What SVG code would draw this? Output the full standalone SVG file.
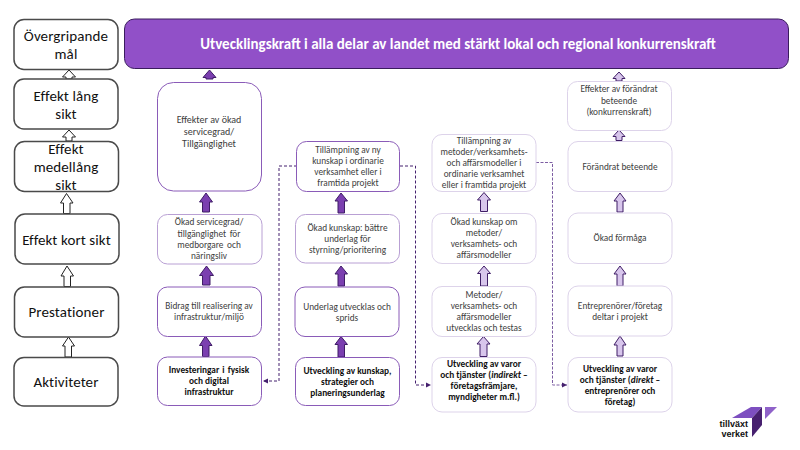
<svg xmlns="http://www.w3.org/2000/svg" width="800" height="450" viewBox="0 0 800 450">
<style>
text{font-family:Carlito,Lato,"Liberation Sans",sans-serif;text-anchor:middle;fill:#404040}
.l rect{fill:#fff;stroke:#4a4a4a;stroke-width:1.5}
.l text{font-size:15px;letter-spacing:.1px;fill:#111}
.n text{font-size:9.300px}
.n text.b{font-weight:700;fill:#111}
.n rect{fill:#fff;stroke-width:1}
.a rect{stroke:#8a5bb8}
.b2 rect{stroke:#b9a0d4}
.c rect{stroke:#ddd3ea}
.dash{fill:none;stroke:#45206e;stroke-width:1;stroke-dasharray:3 2}
.dash2{fill:none;stroke:#7d5ea3;stroke-width:1;stroke-dasharray:3 1.5}
.ao{fill:#fff;stroke:#222;stroke-width:1}
.ap{fill:#7b3fb0;stroke:#3f1d66;stroke-width:1}
.al{fill:#d8c6ec;stroke:#3f1d66;stroke-width:1}
.lg{fill:#111;text-anchor:end;font-family:"Liberation Sans",sans-serif;font-size:9px;font-weight:700}
</style>
<defs>
<marker id="h" markerWidth="6" markerHeight="6" refX="5" refY="3" orient="auto"><path d="M0 0.5L5 3L0 5.500Z" fill="#45206e"/></marker>
</defs>

<rect x="124.500" y="19" width="664" height="49.500" rx="10" fill="#9150c8" stroke="#3a1c5e" stroke-width="1"/>
<text x="458" y="49" font-size="15" font-weight="700" style="fill:#fff">Utvecklingskraft i alla delar av landet med stärkt lokal och regional konkurrenskraft</text>

<g id="connectors">
<path class="ao" d="M69 70L62.500 77H66V79H72V77H75.500Z"/>
<path class="ao" d="M69 130L62.500 137H66V141H72V137H75.500Z"/>
<path class="ao" d="M66.500 193.500L60.500 203H63.500V213.500H70V203H73Z"/>
<path class="ao" d="M67 266L61 276H64V286.500H70.500V276H73.500Z"/>
<path class="ao" d="M68.500 337L62.500 346H65V357H71.500V346H74.500Z"/>
<path class="ap" d="M209.500 70L203 77.500H206V79H213V77.500H216Z"/>
<path class="ap" d="M206 193L199.500 202H202.500V212H209.500V202H212.500Z"/>
<path class="ap" d="M206.500 266L199.500 275.500H202.500V285H210V275.500H213.500Z"/>
<path class="ap" d="M205.500 336L199.500 345.500H202.500V356.500H209V345.500H212Z"/>
<path class="ap" d="M341 193L335 201H338V213H344.500V201H347.500Z"/>
<path class="ap" d="M341 266L335 274H338V286H344.500V274H347.500Z"/>
<path class="ap" d="M341 336.500L335 344.500H338V357H344.500V344.500H347.500Z"/>
<path class="al" d="M484 192.500L477.500 200H480.500V211.500H487.500V200H490.500Z"/>
<path class="al" d="M484 266L477.500 273.500H480.500V286H487.500V273.500H490.500Z"/>
<path class="al" d="M483.500 336.500L477 344H480V356.500H487V344H490Z"/>
<path class="al" d="M619 72L613 78.500H616V81H622V78.500H625Z"/>
<path class="al" d="M619 130L613 136.500H616V140.500H622V136.500H625Z"/>
<path class="al" d="M620 193L614 201H617V212H623V201H626Z"/>
<path class="al" d="M620 266L614 274H617V286H623V274H626Z"/>
<path class="al" d="M620 336L614 345H617V356H623V345H626Z"/>
<path class="dash" d="M297 166H279V381H263" marker-end="url(#h)"/>
<path class="dash" d="M400 166H415.500V385H431" marker-end="url(#h)"/>
<path class="dash2" d="M536 162.500H552.500V385H567" marker-end="url(#h)"/>
</g>

<g id="level-goal" class="l"><rect x="14" y="19.500" width="104" height="50" rx="10"/><text x="66" y="41">Övergripande</text><text x="66" y="59">mål</text></g>
<g id="level-long" class="l"><rect x="14" y="79" width="104" height="50" rx="10"/><text x="66" y="101">Effekt lång</text><text x="66" y="119">sikt</text></g>
<g id="level-medium" class="l"><rect x="14.500" y="141.500" width="104" height="50" rx="10"/><text x="66" y="154">Effekt</text><text x="66" y="172">medellång</text><text x="66" y="190">sikt</text></g>
<g id="level-short" class="l"><rect x="15" y="214" width="104" height="50" rx="10"/><text x="66.500" y="245">Effekt kort sikt</text></g>
<g id="level-output" class="l"><rect x="14.500" y="287" width="104" height="50" rx="10"/><text x="66.500" y="317">Prestationer</text></g>
<g id="level-activity" class="l"><rect x="14" y="357.500" width="104" height="48.500" rx="10"/><text x="66" y="387">Aktiviteter</text></g>

<g id="a1" class="n a"><rect x="157.500" y="82.500" width="104" height="108.500" rx="16"/><text x="209" y="123" style="font-size:10px">Effekter av ökad</text><text x="209" y="135" style="font-size:10px">servicegrad/</text><text x="209" y="147" style="font-size:10px">Tillgänglighet</text></g>
<g id="a2" class="n b2"><rect x="157.500" y="214.500" width="104.500" height="49.500" rx="10"/><text x="209" y="225">Ökad servicegrad/</text><text x="209" y="237" word-spacing="1.500">tillgänglighet för</text><text x="209" y="248" word-spacing="1.500">medborgare och</text><text x="209" y="259">näringsliv</text></g>
<g id="a3" class="n a"><rect x="157.500" y="287" width="104" height="49.500" rx="10"/><text x="209" y="309">Bidrag till realisering av</text><text x="209" y="320">infrastruktur/miljö</text></g>
<g id="a4" class="n a"><rect x="157.500" y="357" width="104" height="48.500" rx="10"/><text class="b" x="209" y="373" word-spacing="1">Investeringar i fysisk</text><text class="b" x="209" y="384">och digital</text><text class="b" x="209" y="395">infrastruktur</text></g>

<g id="b1" class="n a"><rect x="296.500" y="141.500" width="103" height="50" rx="10"/><text x="348" y="153">Tillämpning av ny</text><text x="348" y="164">kunskap i ordinarie</text><text x="348" y="175">verksamhet eller i</text><text x="348" y="186">framtida projekt</text></g>
<g id="b2" class="n b2"><rect x="295.500" y="214.500" width="104" height="48.500" rx="10"/><text x="347.500" y="231">Ökad kunskap: bättre</text><text x="347.500" y="242">underlag för</text><text x="347.500" y="253">styrning/prioritering</text></g>
<g id="b3" class="n a"><rect x="295" y="287" width="104" height="49.500" rx="10"/><text x="347" y="310">Underlag utvecklas och</text><text x="347" y="321">sprids</text></g>
<g id="b4" class="n a"><rect x="295.500" y="357.500" width="104" height="48" rx="10"/><text class="b" x="347.500" y="374">Utveckling av kunskap,</text><text class="b" x="347.500" y="385">strategier och</text><text class="b" x="347.500" y="396">planeringsunderlag</text></g>

<g id="c1" class="n c"><rect x="432" y="134.500" width="104" height="57" rx="10"/><text x="484" y="144">Tillämpning av</text><text x="484" y="155">metoder/verksamhets-</text><text x="484" y="166">och affärsmodeller i</text><text x="484" y="177">ordinarie verksamhet</text><text x="484" y="188">eller i framtida projekt</text></g>
<g id="c2" class="n c"><rect x="432" y="213.500" width="104" height="50" rx="10"/><text x="484" y="225">Ökad kunskap om</text><text x="484" y="236">metoder/</text><text x="484" y="247">verksamhets- och</text><text x="484" y="258">affärsmodeller</text></g>
<g id="c3" class="n c"><rect x="432" y="286.500" width="104" height="50" rx="10"/><text x="484" y="298">Metoder/</text><text x="484" y="309">verksamhets- och</text><text x="484" y="320">affärsmodeller</text><text x="484" y="331">utvecklas och testas</text></g>
<g id="c4" class="n c"><rect x="432" y="357.500" width="104" height="54.500" rx="10"/><text class="b" x="484" y="367">Utveckling av varor</text><text class="b" x="484" y="378">och tjänster (<tspan font-style="italic">indirekt</tspan> –</text><text class="b" x="484" y="389">företagsfrämjare,</text><text class="b" x="484" y="400">myndigheter m.fl.)</text></g>

<g id="d1" class="n c"><rect x="567.500" y="81.500" width="104" height="49" rx="10"/><text x="619" y="92">Effekter av förändrat</text><text x="619" y="104">beteende</text><text x="619" y="115">(konkurrenskraft)</text></g>
<g id="d2" class="n c"><rect x="568" y="141.500" width="104" height="50" rx="10"/><text x="620" y="170">Förändrat beteende</text></g>
<g id="d3" class="n c"><rect x="568" y="213" width="104" height="50.500" rx="10"/><text x="620" y="241">Ökad förmåga</text></g>
<g id="d4" class="n c"><rect x="568" y="286" width="104" height="50" rx="10"/><text x="620" y="309">Entreprenörer/företag</text><text x="620" y="320">deltar i projekt</text></g>
<g id="d5" class="n c"><rect x="568" y="357.500" width="104" height="54.500" rx="10"/><text class="b" x="620" y="372">Utveckling av varor</text><text class="b" x="620" y="383">och tjänster (<tspan font-style="italic">direkt</tspan> –</text><text class="b" x="620" y="394">entreprenörer och</text><text class="b" x="620" y="405">företag)</text></g>

<g id="logo">
<path d="M732 418L751 407H762L752 418Z" fill="#7d4fc0"/>
<path d="M762 407V425L752 437V418Z" fill="#47206f"/>
<path d="M765 407H777L765 419Z" fill="#8f62c9"/>
<text class="lg" x="748" y="427">tillväxt</text>
<text class="lg" x="748" y="437">verket</text>
</g>
</svg>
